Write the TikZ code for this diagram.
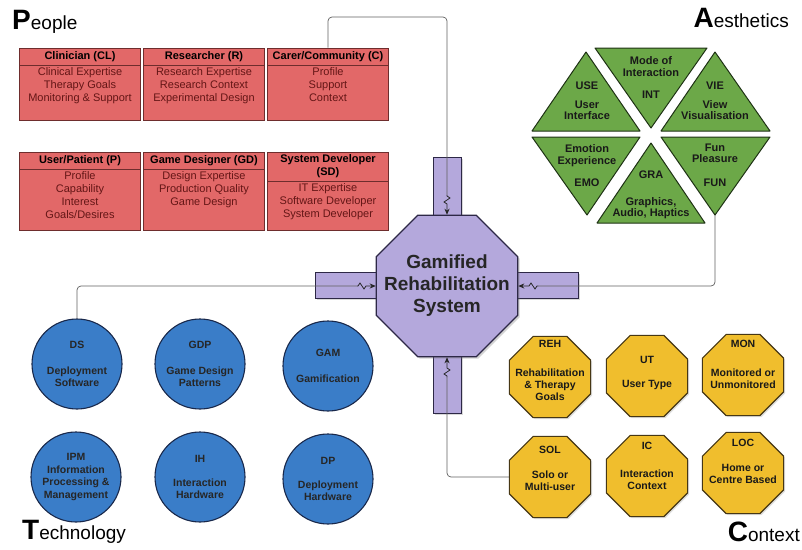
\documentclass[tikz,border=0pt]{standalone}
\usepackage{fontspec}
\setmainfont{Liberation Sans}
\usetikzlibrary{arrows.meta,decorations.pathmorphing,positioning,shapes.geometric,shadows}

\definecolor{pred}{RGB}{226,104,104}
\definecolor{pline}{RGB}{110,45,45}
\definecolor{ptext}{RGB}{100,22,22}
\definecolor{tblue}{RGB}{58,125,200}
\definecolor{tline}{RGB}{25,40,75}
\definecolor{agreen}{RGB}{108,168,72}
\definecolor{aline}{RGB}{30,50,20}
\definecolor{cgold}{RGB}{240,190,45}
\definecolor{cline}{RGB}{70,55,20}
\definecolor{grslav}{RGB}{180,168,220}
\definecolor{grsline}{RGB}{45,40,70}
\definecolor{linkgrey}{RGB}{95,95,95}

\tikzset{
  pbox/.style={draw=pline, fill=pred, line width=0.8pt, minimum width=121pt, inner sep=0pt},
  phead/.style={draw=pline, fill=pred, line width=0.8pt, minimum width=121pt, minimum height=17pt, inner sep=1pt, align=center, font=\bfseries\fontsize{11}{13}\selectfont},
  pitem/.style={inner sep=2pt, align=center, text=ptext, font=\fontsize{11}{13}\selectfont},
  tcirc/.style={circle, draw=tline, fill=tblue, line width=1.1pt, minimum size=90pt, inner sep=0pt, align=center, text=black!85, font=\bfseries\fontsize{10.5}{12.5}\selectfont},
  coct/.style={regular polygon, regular polygon sides=8, draw=cline, fill=cgold, line width=1.1pt, minimum size=88pt, inner sep=0pt, drop shadow={shadow xshift=1.5pt, shadow yshift=-1.5pt, opacity=0.25}},
  ctext/.style={align=center, text=black!90, font=\bfseries\fontsize{10.5}{12}\selectfont},
  tri/.style={draw=aline, fill=agreen, line width=1pt, line join=round},
  atext/.style={align=center, text=black!90, font=\bfseries\fontsize{11}{11.5}\selectfont},
  grs/.style={regular polygon, regular polygon sides=8, draw=grsline, fill=grslav, line width=1.2pt, minimum size=153pt, inner sep=0pt, drop shadow={shadow xshift=2pt, shadow yshift=-2pt, opacity=0.35}},
  grstext/.style={align=center, text=black!85, font=\bfseries\fontsize{19}{22}\selectfont},
  port/.style={draw=grsline, fill=grslav, line width=1pt, inner sep=0pt, drop shadow={shadow xshift=1.5pt, shadow yshift=-1.5pt, opacity=0.3}},
  link/.style={draw=linkgrey, line width=0.7pt, rounded corners=4pt},
  zz/.style={draw=black!85, line width=0.8pt, ->, decorate, decoration={zigzag, segment length=8pt, amplitude=3pt, pre length=1pt, post length=7pt}},
  corner/.style={inner sep=0pt, font=\fontsize{19}{19}\selectfont}
}

\begin{document}
\begin{tikzpicture}[x=1pt, y=-1pt, >={Stealth[length=6pt, width=5pt]}]
    \useasboundingbox (0,0) rectangle (802,549);

    % Corner titles
    \node[corner, anchor=base west] (ptitle) at (12,29) {{\fontsize{28}{28}\selectfont\bfseries P}eople};
    \node[corner, anchor=base east] (atitle) at (789,27) {{\fontsize{28}{28}\selectfont\bfseries A}esthetics};
    \node[corner, anchor=base west] (ttitle) at (22,539) {{\fontsize{28}{28}\selectfont\bfseries T}echnology};
    \node[corner, anchor=base east] (ctitle) at (800,541) {{\fontsize{28}{28}\selectfont\bfseries C}ontext};

    % People
    \node[pbox, minimum height=72pt] (CL) at (80,84) {};
    \node[phead, anchor=north] (CLh) at (CL.north) {Clinician (CL)};
    \node[pitem, anchor=north] (CLi) at (CLh.south) {Clinical Expertise\\Therapy Goals\\Monitoring \& Support};

    \node[pbox, minimum height=72pt] (R) at (204,84) {};
    \node[phead, anchor=north] (Rh) at (R.north) {Researcher (R)};
    \node[pitem, anchor=north] (Ri) at (Rh.south) {Research Expertise\\Research Context\\Experimental Design};

    \node[pbox, minimum height=72pt] (C) at (328,84) {};
    \node[phead, anchor=north] (Ch) at (C.north) {Carer/Community (C)};
    \node[pitem, anchor=north] (Ci) at (Ch.south) {Profile\\Support\\Context};

    \node[pbox, minimum height=78pt] (P) at (80,191) {};
    \node[phead, anchor=north] (Ph) at (P.north) {User/Patient (P)};
    \node[pitem, anchor=north] (Pi) at (Ph.south) {Profile\\Capability\\Interest\\Goals/Desires};

    \node[pbox, minimum height=78pt] (GD) at (204,191) {};
    \node[phead, anchor=north] (GDh) at (GD.north) {Game Designer (GD)};
    \node[pitem, anchor=north] (GDi) at (GDh.south) {Design Expertise\\Production Quality\\Game Design};

    \node[pbox, minimum height=78pt] (SD) at (328,191) {};
    \node[phead, anchor=north, minimum height=29pt] (SDh) at (SD.north) {System Developer\\(SD)};
    \node[pitem, anchor=north] (SDi) at (SDh.south) {IT Expertise\\Software Developer\\System Developer};

    % Aesthetics (hexagon of triangles)
    \filldraw[tri] (532,131) -- (640,131) -- (586,52) -- cycle;
    \filldraw[tri] (595,48) -- (707,48) -- (651,128) -- cycle;
    \filldraw[tri] (661,131) -- (770,131) -- (715,52) -- cycle;
    \filldraw[tri] (532,137) -- (640,137) -- (587,215) -- cycle;
    \filldraw[tri] (597,223) -- (705,223) -- (651,143) -- cycle;
    \filldraw[tri] (661,137) -- (770,137) -- (715,215) -- cycle;
    \coordinate (funtip) at (715,215);

    \node[atext] (use) at (587,101) {USE\\[7pt]User\\Interface};
    \node[atext] (int) at (651,78) {Mode of\\Interaction\\[11pt]INT};
    \node[atext] (vie) at (715,101) {VIE\\[7pt]View\\Visualisation};
    \node[atext] (emo) at (587,166) {Emotion\\Experience\\[11pt]EMO};
    \node[atext] (gra) at (651,195) {GRA\\[15pt]Graphics,\\Audio, Haptics};
    \node[atext] (fun) at (715,165) {Fun\\Pleasure\\[12pt]FUN};

    % Central system with ports
    \node[port, minimum width=28pt, minimum height=64pt] (ptop) at (447,189) {};
    \node[port, minimum width=28pt, minimum height=62pt] (pbot) at (447,382) {};
    \node[port, minimum width=68pt, minimum height=26pt] (pleft) at (349,285) {};
    \node[port, minimum width=67pt, minimum height=26pt] (pright) at (545,285) {};
    \node[grs, label={[grstext]center:Gamified\\Rehabilitation\\System}] (GRS) at (447,286) {};

    % Technology
    \node[tcirc] (DS) at (77,364) {DS\\[13pt]Deployment\\Software};
    \node[tcirc] (GDP) at (200,364) {GDP\\[13pt]Game Design\\Patterns};
    \node[tcirc] (GAM) at (328,366) {GAM\\[13pt]Gamification};
    \node[tcirc] (IPM) at (76,477) {IPM\\Information\\Processing \&\\Management};
    \node[tcirc] (IH) at (200,477) {IH\\[11pt]Interaction\\Hardware};
    \node[tcirc] (DP) at (328,479) {DP\\[11pt]Deployment\\Hardware};

    % Context
    \node[coct, label={[ctext, yshift=7pt]center:REH\\[17pt]Rehabilitation\\\& Therapy\\Goals}] (REH) at (550,377) {};
    \node[coct, label={[ctext, yshift=3pt]center:UT\\[12pt]User Type}] (UT) at (647,376) {};
    \node[coct, label={[ctext, yshift=11pt]center:MON\\[17pt]Monitored or\\Unmonitored}] (MON) at (743,375) {};
    \node[coct, label={[ctext, yshift=9pt]center:SOL\\[13pt]Solo or\\Multi-user}] (SOL) at (550,477) {};
    \node[coct, label={[ctext, yshift=10pt]center:IC\\[16pt]Interaction\\Context}] (IC) at (647,476) {};
    \node[coct, label={[ctext, yshift=12pt]center:LOC\\[13pt]Home or\\Centre Based}] (LOC) at (743,473) {};

    % Links into the system
    \coordinate (tbend) at (447,17);
    \coordinate (tzig) at (447,195);
    \draw[link] (C.north) |- (tbend) -- (tzig);
    \draw[zz] (tzig) -- (GRS.north);

    \coordinate (lzig) at (357,286);
    \draw[link] (DS.north) |- (lzig);
    \draw[zz] (lzig) -- (GRS.west);

    \coordinate (rzig) at (538,286);
    \draw[link] (funtip) |- (rzig);
    \draw[zz] (rzig) -- (GRS.east);

    \coordinate (bzig) at (447,377);
    \draw[link] (SOL.west) -| (bzig);
    \draw[zz] (bzig) -- (GRS.south);
\end{tikzpicture}
\end{document}
